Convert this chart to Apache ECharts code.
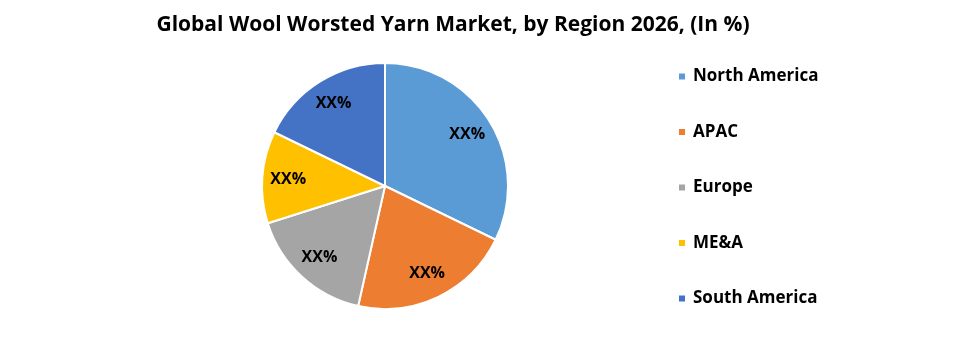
<!DOCTYPE html>
<html><head><meta charset="utf-8">
<script src="https://cdn.jsdelivr.net/npm/echarts@6/dist/echarts.min.js"></script>
<style>html,body{margin:0;padding:0;background:#fff}#c{width:973px;height:340px}</style>
</head><body><div id="c"></div>
<script>
const categories = ['North America', 'APAC', 'Europe', 'ME&A', 'South America'];
const values = [32.2, 21.3, 16.6, 12.1, 17.8];
const labels = ['XX%', 'XX%', 'XX%', 'XX%', 'XX%'];
const colors = ['#5B9BD5', '#ED7D31', '#A5A5A5', '#FFC000', '#4472C4'];

const data = categories.map((n, i) => ({ name: n, value: values[i], itemStyle: { color: colors[i] } }));
const labelData = categories.map((n, i) => ({ name: n, value: values[i], label: { formatter: labels[i] } }));
const font = 'Open Sans, Noto Sans, sans-serif';
const chart = echarts.init(document.getElementById('c'), null, { renderer: 'canvas' });
chart.setOption({
  animation: false,
  title: { text: 'Global Wool Worsted Yarn Market, by Region 2026, (In %)', left: 448, top: 10, textAlign: 'center',
    textStyle: { fontFamily: font, fontWeight: 'bold', fontSize: 21, color: '#000' } },
  legend: { orient: 'vertical', left: 672, top: 63, itemWidth: 8, itemHeight: 8, itemGap: 38.5, icon: 'rect',
    data: categories,
    textStyle: { fontFamily: font, fontWeight: 'bold', fontSize: 17, color: '#000', padding: [0, 0, 0, 2] } },
  series: [
    { type: 'pie', center: [385, 186], radius: [0, 123], startAngle: 90, clockwise: true,
      data: data, label: { show: false }, labelLine: { show: false },
      itemStyle: { borderColor: '#fff', borderWidth: 2 }, emphasis: { disabled: true } },
    { type: 'pie', center: [385, 186], radius: [65, 123], startAngle: 90, clockwise: true, silent: true,
      legendHoverLink: false,
      data: labelData, itemStyle: { color: 'rgba(0,0,0,0)' },
      label: { show: true, position: 'inside', fontFamily: font, fontWeight: 'bold', fontSize: 16, color: '#000' },
      labelLine: { show: false }, emphasis: { disabled: true } }
  ]
});
</script></body></html>
